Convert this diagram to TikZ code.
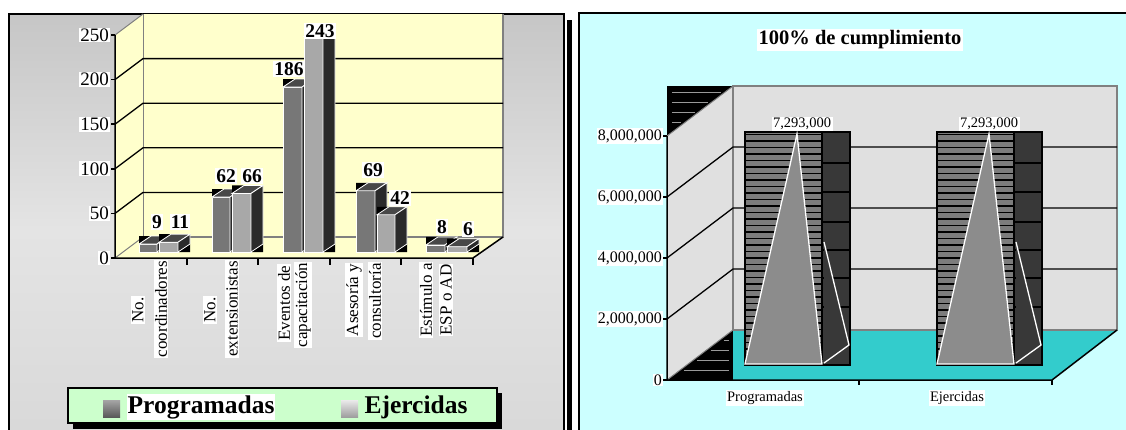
\documentclass[tikz,border=0pt]{standalone}
\usepackage{fontspec}
\setmainfont{Liberation Serif}
\definecolor{panelA}{HTML}{C6C6C6}
\definecolor{panelM}{HTML}{E4E4E4}
\definecolor{panelB}{HTML}{D8D8D8}
\definecolor{wallY}{HTML}{FFFFCC}
\definecolor{legG}{HTML}{CCFFCC}
\definecolor{cyanbg}{HTML}{CCFFFF}
\definecolor{floorC}{HTML}{33CCCC}
\definecolor{wallG}{HTML}{E0E0E0}
\definecolor{progF}{HTML}{777777}
\definecolor{ejeF}{HTML}{A8A8A8}
\definecolor{topg}{HTML}{484848}
\definecolor{sideg}{HTML}{2A2A2A}
\definecolor{hatchg}{HTML}{7C7C7C}
\definecolor{colg}{HTML}{383838}
\definecolor{pyr}{HTML}{8C8C8C}
\definecolor{edgeg}{HTML}{808080}
\tikzset{
  vallbl/.style={fill=white, inner sep=1.2pt, font=\fontsize{19.5}{20}\selectfont\bfseries},
  ytkA/.style={fill=white, inner sep=1pt, anchor=east, font=\fontsize{19}{19}\selectfont},
  catlbl/.style={fill=white, inner sep=1pt, rotate=90, font=\fontsize{17}{17}\selectfont},
  ytkB/.style={fill=white, inner sep=1pt, anchor=east, font=\fontsize{16}{16}\selectfont},
  smalllbl/.style={fill=white, inner sep=1.5pt, font=\fontsize{14.5}{15}\selectfont},
  grid/.style={black, line width=1.3pt},
  axisln/.style={black, line width=1.5pt},
}
% 3D bar of the left chart: x1, x2, value, front colour
\newcommand{\drawbarA}[4]{%
  \pgfmathsetmacro\tpA{252-#3*0.887}%
  \pgfmathsetmacro\tqA{\tpA-8}%
  \fill[black] (#1,\tpA) -- (#1,\tqA) -- (#1+12,\tqA) -- cycle;
  \fill[black] (#2,252) -- (#2+12,252) -- (#2+12,244) -- cycle;
  \filldraw[fill=#4, draw=white, line width=0.8pt] (#1,252) rectangle (#2,\tpA);
  \filldraw[fill=topg, draw=white, line width=0.8pt] (#1,\tpA) -- (#1+12,\tqA) -- (#2+12,\tqA) -- (#2,\tpA) -- cycle;
  \filldraw[fill=sideg, draw=white, line width=0.8pt] (#2,252) -- (#2,\tpA) -- (#2+12,\tqA) -- (#2+12,244) -- cycle;
}
% hatched bar with pyramid of the right chart: left x
\newcommand{\drawbarB}[1]{%
  \fill[hatchg] (#1,132) rectangle (#1+77,365);
  \foreach \yy in {134.5,141,...,363} \draw[black, line width=1.8pt] (#1,\yy) -- (#1+77,\yy);
  \draw[black, line width=1.2pt] (#1,132) rectangle (#1+77,365);
  \filldraw[fill=colg, draw=black, line width=1.2pt] (#1+77,132) rectangle (#1+105,365);
  \foreach \yy in {163,192,222,250,278,307} \draw[black, line width=1.2pt] (#1+77,\yy) -- (#1+105,\yy);
  \filldraw[fill=pyr, draw=white, line width=1.3pt] (#1,364) -- (#1+77,364) -- (#1+52,134) -- cycle;
  \fill[colg] (#1+79,242) -- (#1+104,345) -- (#1+79,363) -- cycle;
  \draw[white, line width=1.3pt] (#1+79,242) -- (#1+104,345) -- (#1+79,363);
}
\begin{document}
\begin{tikzpicture}[x=1pt, y=-1pt]
\useasboundingbox (0,0) rectangle (1126,429);
\fill[white] (0,0) rectangle (1126,429);

% ================= LEFT PANEL =================
\shade[top color=panelA, bottom color=panelB, middle color=panelM] (9,14) rectangle (564,445);
\draw[line width=1.5pt] (9,14) rectangle (564,445);
\fill[black] (567,20) rectangle (572,445);

% walls and floor
\fill[wallY] (115,35) -- (143,14) -- (143,237) -- (115,258) -- cycle;
\fill[wallY] (143,14) rectangle (503,237);
\fill[wallY] (115,258) -- (143,237) -- (503,237) -- (473,258) -- cycle;
\draw[edgeg, line width=1pt] (143,237) -- (143,14);
\draw[edgeg, line width=1.2pt] (503,14) -- (503,237) -- (143,237);
\draw[edgeg, line width=1pt] (115,35) -- (143,14);
\draw[edgeg, line width=1pt] (115,258) -- (143,237);
\foreach \Y in {79.6,124.2,168.8,213.4} {
  \draw[grid] (115,\Y) -- (143,\Y-21) -- (503,\Y-21);
}
\draw[axisln] (115,35) -- (115,258) -- (473,258) -- (503,237);
\foreach \Y in {35,79.6,124.2,168.8,213.4,258} \draw[axisln] (111,\Y) -- (115,\Y);
\foreach \X in {187,258,330,401,473} \draw[axisln] (\X,258) -- (\X,265);

% bars
\drawbarA{139}{157}{9}{progF}
\drawbarA{159}{178}{11}{ejeF}
\drawbarA{212}{230}{62}{progF}
\drawbarA{232}{251}{66}{ejeF}
\drawbarA{283}{302}{186}{progF}
\drawbarA{304}{323}{243}{ejeF}
\drawbarA{356}{375}{69}{progF}
\drawbarA{377}{395}{42}{ejeF}
\drawbarA{426}{445}{8}{progF}
\drawbarA{447}{467}{6}{ejeF}

% value labels
\node[vallbl] (v1) at (157,222) {9};
\node[vallbl] (v2) at (180,222) {11};
\node[vallbl] (v3) at (226,176) {62};
\node[vallbl] (v4) at (252,176) {66};
\node[vallbl] (v5) at (289,69) {186};
\node[vallbl] (v6) at (320,31) {243};
\node[vallbl] (v7) at (373,170) {69};
\node[vallbl] (v8) at (400,198) {42};
\node[vallbl] (v9) at (442,227) {8};
\node[vallbl] (v10) at (468,229) {6};

% y axis labels
\node[ytkA] (ya) at (110,35) {250};
\node[ytkA] (yb) at (110,79.6) {200};
\node[ytkA] (yc) at (110,124.2) {150};
\node[ytkA] (yd) at (110,168.8) {100};
\node[ytkA] (ye) at (110,213.4) {50};
\node[ytkA] (yf) at (110,258) {0};

% category labels
\node[catlbl] (c1a) at (138,310) {No.};
\node[catlbl] (c1b) at (161,309) {coordinadores};
\node[catlbl] (c2a) at (210,310) {No.};
\node[catlbl] (c2b) at (232,309) {extensionistas};
\node[catlbl] (c3a) at (284,303) {Eventos de};
\node[catlbl] (c3b) at (303,305) {capacitación};
\node[catlbl] (c4a) at (354,300) {Asesoría y};
\node[catlbl] (c4b) at (375,301) {consultoría};
\node[catlbl] (c5a) at (426,300) {Estímulo a};
\node[catlbl] (c5b) at (446,300) {ESP o AD};

% legend
\fill[black] (73,393) rectangle (502,429);
\filldraw[fill=legG, draw=black, line width=1.5pt] (68,388) rectangle (497,423);
\shade[top color=black!35, bottom color=black!65] (103,400) rectangle (120,417);
\shade[top color=black!8, bottom color=black!38] (341,400) rectangle (358,417);
\node[fill=white, inner sep=1pt, font=\fontsize{25.5}{25.5}\selectfont\bfseries] (lg1) at (201,407) {Programadas};
\node[inner sep=1pt, font=\fontsize{25.5}{25.5}\selectfont\bfseries] (lg2) at (416,407) {Ejercidas};

% ================= RIGHT PANEL =================
\filldraw[fill=cyanbg, draw=black, line width=1.5pt] (579,13) rectangle (1135,445);
\node[fill=white, inner sep=2pt, font=\fontsize{20.5}{20.5}\selectfont\bfseries] (title) at (860,40) {100\% de cumplimiento};

% walls
\fill[wallG] (733,86) rectangle (1117,330);
\fill[wallG] (667,136) -- (733,86) -- (733,330) -- (667,380) -- cycle;
\fill[black] (667,86) -- (733,86) -- (667,136) -- cycle;
\foreach \yy in {92,102,112,122} \draw[black!40, line width=1pt] (672,\yy) -- ({667+(136-\yy)*66/50-4},\yy);
\fill[black] (667,380) -- (733,330) -- (733,380) -- cycle;
\foreach \yy in {340,350,360,370} \draw[black!40, line width=1pt] ({667+(380-\yy)*66/50+4},\yy) -- (729,\yy);
\fill[floorC] (733,330) -- (1117,330) -- (1052,380) -- (733,380) -- cycle;
\draw[edgeg, line width=1.2pt] (733,330) -- (733,86) -- (1117,86) -- (1117,330) -- (733,330);
\draw[edgeg, line width=1pt] (667,136) -- (733,86);
\draw[edgeg, line width=1pt] (667,380) -- (733,330);
\foreach \Y in {197,258,319} {
  \draw[grid] (667,\Y) -- (733,\Y-50) -- (1117,\Y-50);
}

% bars
\drawbarB{745}
\drawbarB{937}

% axes
\draw[axisln] (667,136) -- (667,380) -- (1052,380) -- (1117,330);
\foreach \Y in {136,197,258,319,380} \draw[axisln] (663,\Y) -- (667,\Y);
\foreach \X in {859,1052} \draw[axisln] (\X,380) -- (\X,385);

% labels
\node[ytkB] (r1) at (663,136) {8,000,000};
\node[ytkB] (r2) at (663,197) {6,000,000};
\node[ytkB] (r3) at (663,258) {4,000,000};
\node[ytkB] (r4) at (663,319) {2,000,000};
\node[ytkB] (r5) at (663,380) {0};
\node[smalllbl] (p1) at (802,124) {7,293,000};
\node[smalllbl] (p2) at (989,124) {7,293,000};
\node[smalllbl] (k1) at (765,398) {Programadas};
\node[smalllbl] (k2) at (957,398) {Ejercidas};
\end{tikzpicture}
\end{document}
